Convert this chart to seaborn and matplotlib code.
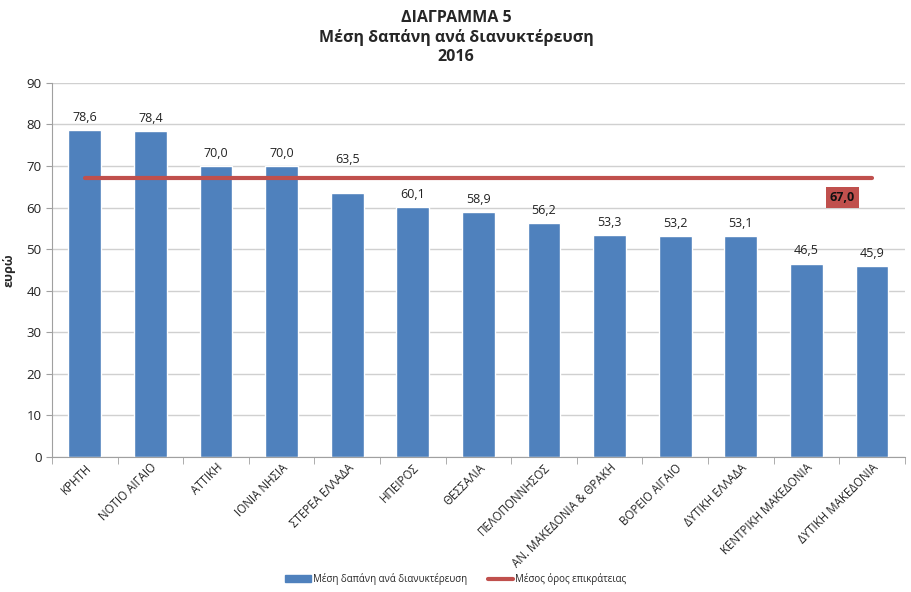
import pandas as pd
import matplotlib
matplotlib.use("Agg")
import matplotlib.pyplot as plt
import matplotlib.patches as mpatches
import matplotlib.lines as mlines
import seaborn as sns

# ================== data ==================
regions = ["ΚΡΗΤΗ", "ΝΟΤΙΟ ΑΙΓΑΙΟ", "ΑΤΤΙΚΗ", "ΙΟΝΙΑ ΝΗΣΙΑ", "ΣΤΕΡΕΑ ΕΛΛΑΔΑ",
           "ΗΠΕΙΡΟΣ", "ΘΕΣΣΑΛΙΑ", "ΠΕΛΟΠΟΝΝΗΣΟΣ", "ΑΝ. ΜΑΚΕΔΟΝΙΑ & ΘΡΑΚΗ",
           "ΒΟΡΕΙΟ ΑΙΓΑΙΟ", "ΔΥΤΙΚΗ ΕΛΛΑΔΑ", "ΚΕΝΤΡΙΚΗ ΜΑΚΕΔΟΝΙΑ", "ΔΥΤΙΚΗ ΜΑΚΕΔΟΝΙΑ"]
spend = [78.6, 78.4, 70.0, 70.0, 63.5, 60.1, 58.9, 56.2, 53.3, 53.2, 53.1, 46.5, 45.9]
country_avg = 67.0

bar_name = "Μέση δαπάνη ανά διανυκτέρευση"
line_name = "Μέσος όρος επικράτειας"

df = pd.DataFrame({"region": regions, "spend": spend})

bar_col = "#4F81BD"
line_col = "#C0504D"

# ================== plot ==================
sns.set_style("white")
plt.rcParams["font.family"] = ["Open Sans", "DejaVu Sans"]

fig = plt.figure(figsize=(9.12, 5.92), dpi=100)
ax = fig.add_axes([0.057, 0.228, 0.935, 0.632])

sns.barplot(data=df, x="region", y="spend", color=bar_col, width=0.5,
            saturation=1, ax=ax, zorder=2)
ax.plot([0, len(regions) - 1], [country_avg] * 2, color=line_col, lw=3, zorder=3)

for i, v in enumerate(spend):
    # the 63,5 label sits above the average line in the original
    off = 6.5 if i == 4 else 1.5
    ax.text(i, v + off, f"{v:.1f}".replace(".", ","), ha="center", va="bottom",
            fontsize=9, color="#222222")

ax.text(len(regions) - 1.45, country_avg - 4.6, f"{country_avg:.1f}".replace(".", ","),
        ha="center", va="center", fontsize=9, fontweight="bold", color="#111111",
        bbox=dict(boxstyle="square,pad=0.3", fc=line_col, ec="none"), zorder=4)

ax.set_ylim(0, 90)
ax.set_yticks(range(0, 91, 10))
ax.set_xlim(-0.5, len(regions) - 0.5)
ax.yaxis.grid(True, color="#D0D0D0", lw=1)
ax.set_axisbelow(True)
for s in ["top", "right"]:
    ax.spines[s].set_visible(False)
for s in ["left", "bottom"]:
    ax.spines[s].set_color("#A0A0A0")
ax.tick_params(axis="y", labelsize=9.5, colors="#222222", length=4, color="#A0A0A0", direction="out", left=True)
ax.tick_params(axis="x", labelsize=8.3, colors="#222222", length=0, pad=3)
ax.set_xticks([x - 0.5 for x in range(len(regions) + 1)], minor=True)
ax.tick_params(axis="x", which="minor", length=5, color="#A0A0A0", bottom=True)
plt.setp(ax.get_xticklabels(), rotation=45, ha="right", rotation_mode="anchor")
ax.set_xlabel("")
ax.set_ylabel("ευρώ", fontsize=9, fontweight="bold", labelpad=8)

fig.text(0.5, 0.97, "ΔΙΑΓΡΑΜΜΑ 5", ha="center", va="center", fontsize=11.5, fontweight="bold")
fig.text(0.5, 0.937, "Μέση δαπάνη ανά διανυκτέρευση", ha="center", va="center", fontsize=11.5, fontweight="bold")
fig.text(0.5, 0.903, "2016", ha="center", va="center", fontsize=11.5, fontweight="bold")

handles = [mpatches.Patch(color=bar_col, label=bar_name),
           mlines.Line2D([], [], color=line_col, lw=3, label=line_name)]
fig.legend(handles=handles, loc="center", bbox_to_anchor=(0.5, 0.022), ncol=2, frameon=False,
           fontsize=7, handlelength=2.6, handleheight=0.6, handletextpad=0.2, columnspacing=2.2)

fig.savefig("out.png", dpi=100)
